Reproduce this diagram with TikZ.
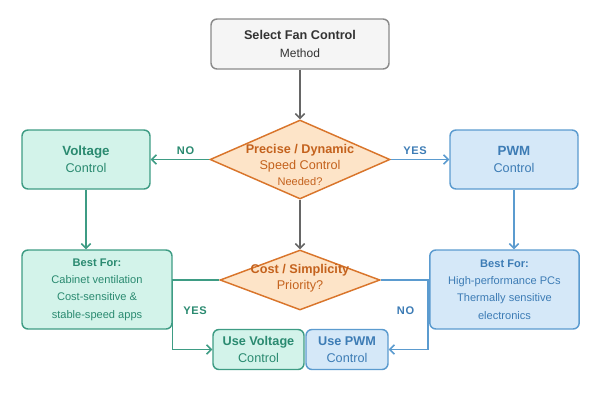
\documentclass[tikz,border=0pt]{standalone}
\usepackage{fontspec}
\setmainfont{Liberation Sans}
\newfontfamily\lblfont[LetterSpace=6]{Liberation Sans}
\usetikzlibrary{arrows.meta,shapes.geometric}
\definecolor{grayfill}{HTML}{F5F5F5}
\definecolor{graydraw}{HTML}{8A8A8A}
\definecolor{grayline}{HTML}{666666}
\definecolor{graytext}{HTML}{333333}
\definecolor{orfill}{HTML}{FDE4C8}
\definecolor{ordraw}{HTML}{D9752B}
\definecolor{ortext}{HTML}{C4621D}
\definecolor{tlfill}{HTML}{D3F3EA}
\definecolor{tldraw}{HTML}{3E9C84}
\definecolor{tltext}{HTML}{2A8A70}
\definecolor{blfill}{HTML}{D5E8F8}
\definecolor{bldraw}{HTML}{5B9BCF}
\definecolor{bltext}{HTML}{3D7CB5}
\begin{document}
\begin{tikzpicture}[x=0.75pt,y=-0.75pt,
  base/.style={rounded corners=4.5pt, line width=1.1pt, align=center, inner sep=1pt,
    font=\fontsize{9.5}{12.5}\selectfont},
  graybox/.style={base, draw=graydraw, fill=grayfill, text=graytext, font=\fontsize{9.5}{13}\selectfont},
  tealbox/.style={base, draw=tldraw, fill=tlfill, text=tltext},
  bluebox/.style={base, draw=bldraw, fill=blfill, text=bltext},
  bestbox/.style={font=\fontsize{8.3}{13}\selectfont},
  diam/.style={shape=diamond, draw=ordraw, fill=orfill, line width=1.1pt, inner sep=0pt},
  dtext/.style={align=center, text=ortext, inner sep=0pt, font=\fontsize{9.5}{12}\selectfont},
  lbl/.style={inner sep=0pt, font=\lblfont\bfseries\fontsize{8.3}{10}\selectfont},
  conn/.style={line width=1.1pt, -{Straight Barb[length=3.5pt,width=7pt,line width=1.1pt]}},
  garrow/.style={conn, draw=grayline},
  tarrow/.style={conn, draw=tldraw},
  barrow/.style={conn, draw=bldraw}
]
\useasboundingbox (0,0) rectangle (600,400);

\node[graybox, minimum width=133.5pt, minimum height=37.5pt] (start) at (300,44)
  {\bfseries Select Fan Control\\{\fontsize{9}{13}\selectfont Method}};

\node[diam, minimum width=135pt, minimum height=59.25pt] (d1) at (300,159.5) {};
\node[dtext] (d1t) at (300,165)
  {\bfseries Precise / Dynamic\\Speed Control\\{\fontsize{8.3}{12}\selectfont Needed?}};

\node[tealbox, minimum width=96pt, minimum height=44.25pt] (volt) at (86,159.5)
  {{\bfseries\fontsize{10}{12.5}\selectfont Voltage}\\Control};
\node[bluebox, minimum width=96pt, minimum height=44.25pt] (pwm) at (514,159.5)
  {{\bfseries\fontsize{10}{12.5}\selectfont PWM}\\Control};

\node[tealbox, bestbox, minimum width=112.5pt, minimum height=59.25pt] (bfl) at (97,289.5)
  {\bfseries Best For:\\Cabinet ventilation\\Cost-sensitive \&\\stable-speed apps};
\node[bluebox, bestbox, minimum width=112pt, minimum height=59.25pt] (bfr) at (504.5,289.5)
  {\bfseries Best For:\\High-performance PCs\\Thermally sensitive\\electronics};

\node[diam, minimum width=120pt, minimum height=45pt] (d2) at (300,280) {};
\node[dtext] (d2t) at (300,278) {\bfseries Cost / Simplicity\\Priority?};

\node[tealbox, minimum width=68.25pt, minimum height=30pt] (usev) at (258.5,349.5)
  {\bfseries Use Voltage\\Control};
\node[bluebox, minimum width=61.5pt, minimum height=30pt] (usep) at (347,349.5)
  {\bfseries Use PWM\\Control};

\node[lbl, text=tltext] (noA) at (185.5,151) {NO};
\node[lbl, text=bltext] (yesA) at (415,151) {YES};
\node[lbl, text=tltext] (yesB) at (195,311) {YES};
\node[lbl, text=bltext] (noB) at (405.5,311) {NO};

\draw[garrow] (start.south) -- (d1.north);
\draw[tarrow] (d1.west) -- (volt.east);
\draw[barrow] (d1.east) -- (pwm.west);
\draw[garrow] (d1.south) -- (d2.north);
\draw[tarrow] (volt.south) -- (volt.south |- bfl.north);
\draw[barrow] (pwm.south) -- (pwm.south |- bfr.north);
\coordinate (rc) at (428,280);
\draw[tarrow] (d2.west) -- (bfl.east |- d2.west) -- (bfl.east |- usev.west) -- (usev.west);
\draw[barrow] (d2.east) -- (rc) -- (rc |- usep.east) -- (usep.east);
\end{tikzpicture}
\end{document}
